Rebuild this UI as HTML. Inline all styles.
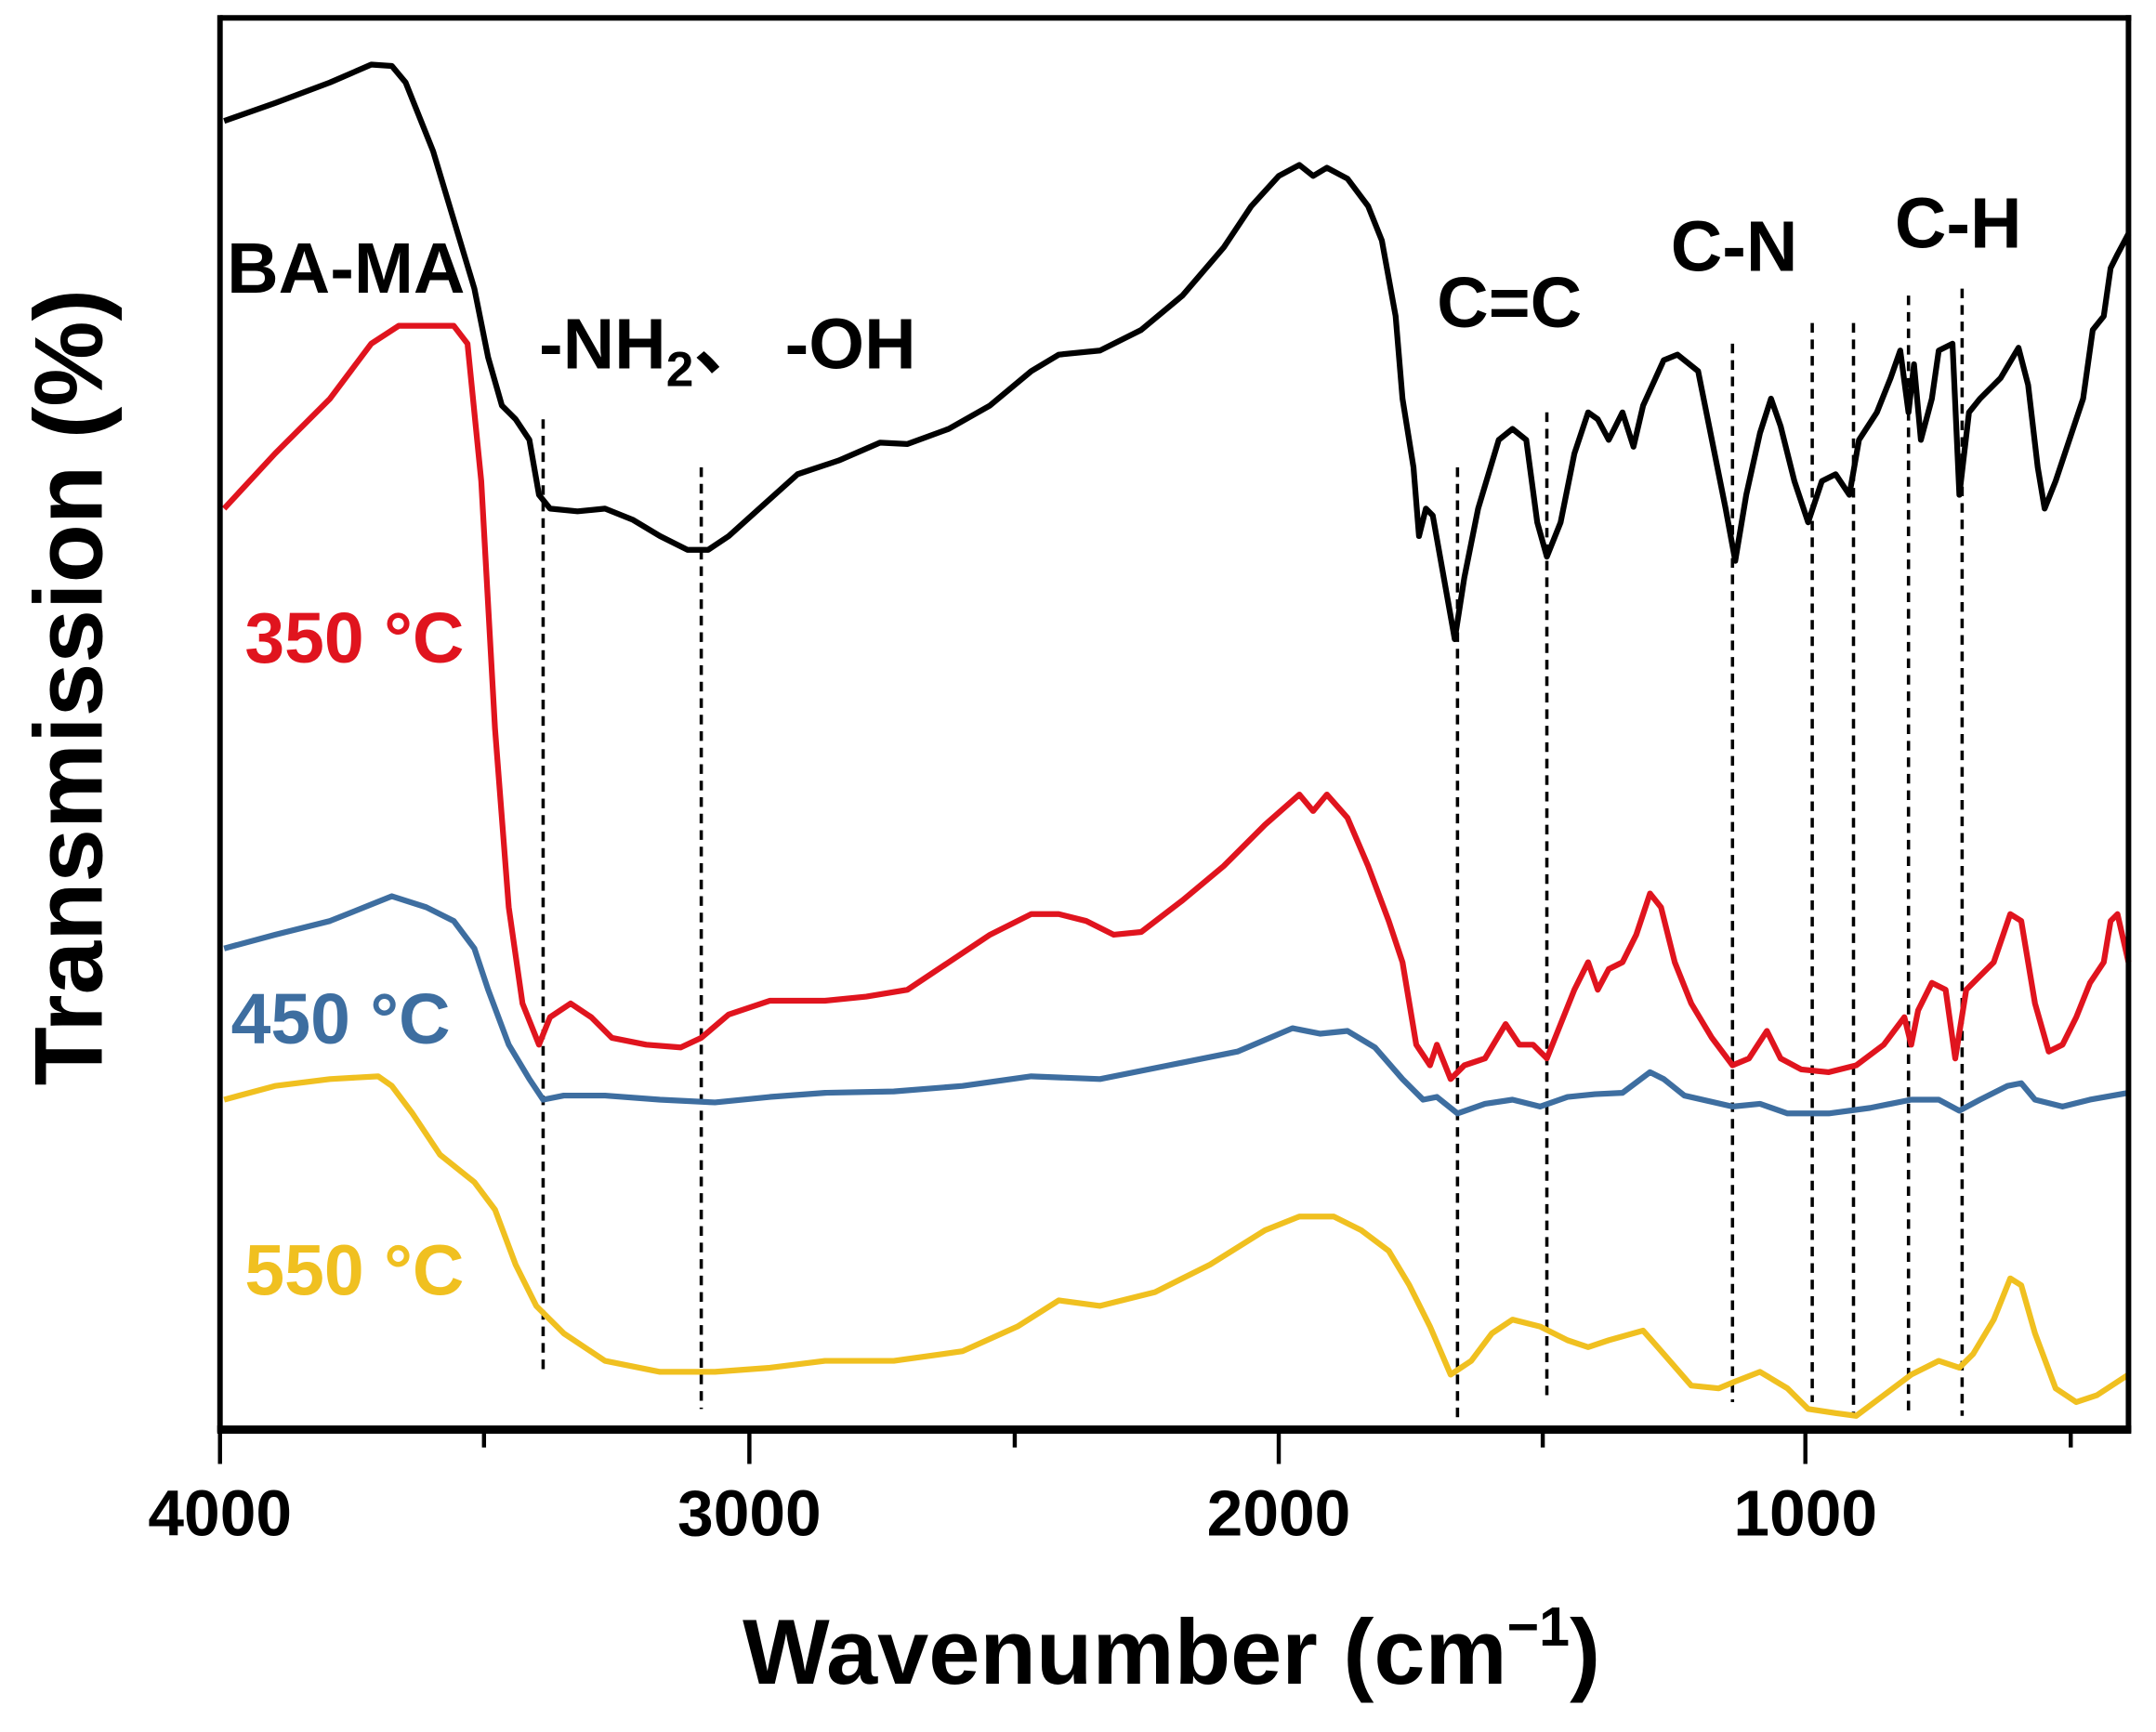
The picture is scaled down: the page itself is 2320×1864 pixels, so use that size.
<!DOCTYPE html>
<html><head><meta charset="utf-8"><style>html,body{margin:0;padding:0;background:#fff}svg{display:block}</style></head>
<body>
<svg width="2320" height="1864" viewBox="0 0 1568 1260" preserveAspectRatio="none" xmlns="http://www.w3.org/2000/svg" font-family="Liberation Sans, Noto Sans CJK SC, sans-serif" font-weight="bold">
<rect width="1568" height="1260" fill="#fff"/>
<g stroke="#000" stroke-width="2.4" stroke-dasharray="7,5" fill="none">
<line x1="395" y1="305" x2="395" y2="1000"/>
<line x1="510" y1="340" x2="510" y2="1025"/>
<line x1="1060" y1="340" x2="1060" y2="1035"/>
<line x1="1125" y1="300" x2="1125" y2="1020"/>
<line x1="1260" y1="250" x2="1260" y2="1020"/>
<line x1="1318" y1="235" x2="1318" y2="1020"/>
<line x1="1348" y1="235" x2="1348" y2="1030"/>
<line x1="1388" y1="215" x2="1388" y2="1030"/>
<line x1="1427" y1="210" x2="1427" y2="1030"/>
</g>
<g fill="none" stroke-width="4.2" stroke-linejoin="round">
<polyline stroke="#000" points="163,88 200,75 240,60 270,47 285,48 295,60 305,85 315,110 330,160 345,210 355,260 365,295 375,305 385,320 392,360 400,370 420,372 440,370 460,378 480,390 500,400 515,400 530,390 550,372 580,345 610,335 640,322 660,323 690,312 720,295 750,270 770,258 800,255 830,240 860,215 890,180 910,150 930,128 945,120 955,128 965,122 980,130 995,150 1005,175 1015,230 1020,290 1028,340 1032,390 1037,370 1042,375 1050,420 1058,465 1065,420 1075,370 1090,320 1100,312 1110,320 1118,380 1125,405 1135,380 1145,330 1155,300 1162,305 1170,320 1180,300 1188,325 1195,295 1210,262 1220,258 1235,270 1245,320 1255,370 1262,408 1270,360 1280,315 1288,290 1295,310 1305,350 1315,380 1325,350 1335,345 1345,360 1352,320 1365,300 1375,275 1382,255 1388,300 1392,265 1397,320 1405,290 1410,255 1420,250 1425,360 1432,300 1440,290 1455,275 1468,253 1475,280 1482,340 1487,370 1495,350 1505,320 1515,290 1522,240 1530,230 1535,195 1540,185 1548,170"/>
<polyline stroke="#e0141e" points="163,370 200,330 240,290 270,250 290,237 330,237 340,250 350,350 360,530 370,660 380,730 392,760 400,740 415,730 430,740 445,755 470,760 495,762 510,755 530,738 560,728 600,728 630,725 660,720 690,700 720,680 750,665 770,665 790,670 810,680 830,678 860,655 890,630 920,600 945,578 955,590 965,578 980,595 995,630 1010,670 1020,700 1030,760 1040,775 1045,760 1055,785 1065,775 1080,770 1095,745 1105,760 1115,760 1125,770 1135,745 1145,720 1155,700 1162,720 1170,705 1180,700 1190,680 1200,650 1208,660 1218,700 1230,730 1245,755 1260,775 1272,770 1285,750 1295,770 1310,778 1330,780 1350,775 1370,760 1385,740 1390,760 1395,735 1405,715 1415,720 1422,770 1430,720 1440,710 1450,700 1462,665 1470,670 1480,730 1490,765 1500,760 1510,740 1520,715 1530,700 1535,670 1540,665 1548,700"/>
<polyline stroke="#3e6ea0" points="163,690 200,680 240,670 270,658 285,652 310,660 330,670 345,690 355,720 370,760 385,785 395,800 410,797 440,797 480,800 520,802 560,798 600,795 650,794 700,790 750,783 800,785 850,775 900,765 940,748 960,752 980,750 1000,762 1020,785 1035,800 1045,798 1060,810 1080,803 1100,800 1120,805 1140,798 1160,796 1180,795 1200,780 1210,785 1225,797 1260,805 1280,803 1300,810 1330,810 1360,806 1390,800 1410,800 1425,808 1440,800 1460,790 1470,788 1480,800 1500,805 1520,800 1548,795"/>
<polyline stroke="#f0c020" points="163,800 200,790 240,785 275,783 285,790 300,810 320,840 345,860 360,880 375,920 390,950 410,970 440,990 480,998 520,998 560,995 600,990 650,990 700,983 740,965 770,946 800,950 840,940 880,920 920,895 945,885 970,885 990,895 1010,910 1025,935 1040,965 1055,1000 1070,990 1085,970 1100,960 1120,965 1140,975 1155,980 1170,975 1195,968 1210,985 1230,1008 1250,1010 1262,1005 1280,998 1300,1010 1315,1025 1335,1028 1350,1030 1370,1015 1390,1000 1410,990 1425,995 1435,985 1450,960 1462,930 1470,935 1480,970 1495,1010 1510,1020 1525,1015 1548,1000"/>
</g>
<g stroke="#000" fill="none">
<line x1="160" y1="13" x2="1550" y2="13" stroke-width="4"/>
<line x1="160" y1="11" x2="160" y2="1042" stroke-width="4"/>
<line x1="1548" y1="11" x2="1548" y2="1042" stroke-width="4"/>
<line x1="158" y1="1040" x2="1550" y2="1040" stroke-width="6"/>
<g stroke-width="3">
<line x1="160" y1="1040" x2="160" y2="1065"/><line x1="545" y1="1040" x2="545" y2="1065"/><line x1="930" y1="1040" x2="930" y2="1065"/><line x1="1313" y1="1040" x2="1313" y2="1065"/>
<line x1="352" y1="1040" x2="352" y2="1053"/><line x1="738" y1="1040" x2="738" y2="1053"/><line x1="1122" y1="1040" x2="1122" y2="1053"/><line x1="1506" y1="1040" x2="1506" y2="1053"/>
</g></g>
<g font-size="47" text-anchor="middle" fill="#000">
<text x="160" y="1117">4000</text><text x="545" y="1117">3000</text><text x="930" y="1117">2000</text><text x="1313" y="1117">1000</text>
</g>
<text x="852" y="1225" font-size="67" text-anchor="middle">Wavenumber (cm<tspan font-size="40" dy="-28">−1</tspan><tspan dy="28">)</tspan></text>
<text transform="translate(74,500) rotate(-90)" font-size="70" text-anchor="middle">Transmission (%)</text>
<g font-size="52" fill="#000">
<text x="165" y="213">BA-MA</text>
<text x="392" y="268">-NH<tspan font-size="36" dy="13">2</tspan><tspan dy="-13">、 -OH</tspan></text>
<text x="1045" y="238">C=C</text>
<text x="1215" y="197">C-N</text>
<text x="1378" y="180">C-H</text>
<text x="178" y="482" fill="#e0141e">350 °C</text>
<text x="168" y="759" fill="#3e6ea0">450 °C</text>
<text x="178" y="942" fill="#f0c020">550 °C</text>
</g>
</svg>
</body></html>
